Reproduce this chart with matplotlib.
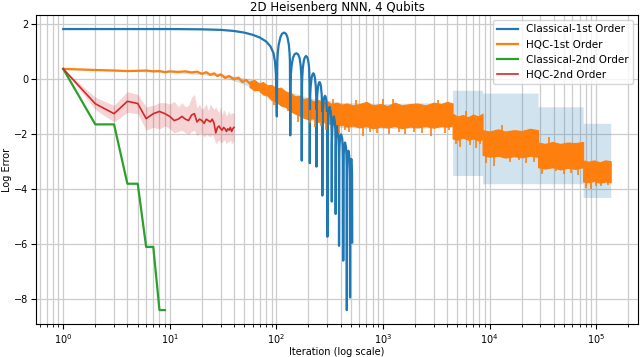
import numpy as np
import matplotlib
matplotlib.use("Agg")
import matplotlib.pyplot as plt

# Classical-1st Order (iteration, log error)
c1_x = [1, 5, 10, 20, 30, 40, 50, 60, 70, 80, 88, 94, 97, 99, 101,
        102, 103, 105, 109, 113, 118, 123, 127, 131, 133, 134, 135,
        136, 137, 139, 143, 148, 154, 160, 165, 169, 171, 172, 173,
        174, 175, 177, 181, 185, 190, 195, 199, 203, 204, 205, 206,
        207, 208, 210, 214, 218, 222, 226, 230, 234, 236, 237, 238,
        239, 240, 242, 246, 250, 254, 258, 262, 266, 268, 269, 270,
        271, 272, 274, 278, 282, 286, 290, 294, 297, 299, 300, 301,
        302, 303, 305, 309, 316, 323, 327, 329, 330, 331,
        332, 333, 335, 339, 346, 353, 357, 358, 359, 360,
        361, 362, 364, 368, 374, 380, 384, 385, 386, 387,
        388, 389, 391, 395, 405, 415, 420, 422, 423, 424,
        425, 426, 428, 432, 441, 450, 454, 456, 457, 458,
        459, 460, 462, 466, 474, 482, 486, 488, 489, 491,
        492, 493, 495, 499, 505, 510, 513, 515]
c1_y = [1.83, 1.83, 1.83, 1.82, 1.80, 1.76, 1.70, 1.62, 1.52, 1.38, 1.20, 0.95, 0.65, 0.20, -1.35,
        0.65, 0.95, 1.25, 1.53, 1.66, 1.70, 1.66, 1.53, 1.25, 0.95, 0.65, -2.04,
        -0.10, 0.20, 0.50, 0.78, 0.91, 0.95, 0.91, 0.78, 0.50, 0.20, -0.10, -2.96,
        -0.20, 0.10, 0.40, 0.68, 0.80, 0.85, 0.80, 0.68, 0.40, 0.10, -0.20, -3.05,
        -0.83, -0.53, -0.23, 0.05, 0.18, 0.22, 0.18, 0.05, -0.23, -0.53, -0.83, -3.18,
        -1.15, -0.85, -0.55, -0.27, -0.14, -0.10, -0.14, -0.27, -0.55, -0.85, -1.15, -4.23,
        -1.65, -1.35, -1.05, -0.77, -0.64, -0.60, -0.64, -0.77, -1.05, -1.35, -1.65, -5.73,
        -2.05, -1.75, -1.45, -1.17, -1.00, -1.17, -1.45, -1.75, -2.05, -4.45,
        -2.40, -2.10, -1.80, -1.52, -1.35, -1.52, -1.80, -2.10, -2.40, -4.90,
        -2.75, -2.45, -2.15, -1.87, -1.70, -1.87, -2.15, -2.45, -2.75, -6.06,
        -3.05, -2.75, -2.45, -2.17, -2.00, -2.17, -2.45, -2.75, -3.05, -6.60,
        -3.35, -3.05, -2.75, -2.47, -2.30, -2.47, -2.75, -3.05, -3.35, -8.40,
        -3.65, -3.35, -3.05, -2.77, -2.60, -2.77, -3.05, -3.35, -3.65, -7.94,
        -3.95, -3.65, -3.35, -3.07, -2.90, -3.10, -3.50, -5.94]

# HQC-1st Order: early line, then the dense noisy band
h1_x = [1, 2, 3, 4, 5, 6, 7, 8, 9, 10, 12, 14, 16, 18, 20, 22, 24, 26, 28, 30,
        33, 36, 40, 44, 48, 52, 56, 60]
h1_y = [0.38, 0.34, 0.32, 0.30, 0.31, 0.32, 0.29, 0.30, 0.26, 0.29, 0.27, 0.29,
        0.25, 0.28, 0.20, 0.26, 0.16, 0.22, 0.12, 0.18, 0.05, 0.12, 0.00, 0.06,
        -0.10, -0.02, -0.15, -0.12]
h1_band_x = [56, 62, 68, 75, 82, 90, 100, 110, 122, 135, 150, 165, 180, 200, 220, 245,
             270, 300, 330, 370, 410, 460, 520, 600, 700, 800, 950, 1100, 1300, 1500,
             1800, 2100, 2500, 3000, 3500, 4000, 4500,
             4500, 5000, 5600, 6300, 7000, 7800, 8600,
             8600, 10000, 12000, 14000, 17000, 20000, 24000, 28500,
             28500, 33000, 39000, 46000, 54000, 64000, 75500,
             75500, 85000, 95000, 108000, 122000, 137000]
h1_band_hi = [-0.08, -0.02, -0.15, -0.10, -0.22, -0.20, -0.33, -0.30, -0.45, -0.50, -0.62,
              -0.60, -0.72, -0.68, -0.80, -0.75, -0.85, -0.80, -0.90, -0.85, -0.92, -0.88,
              -0.95, -0.90, -0.82, -0.95, -0.90, -0.97, -0.85, -0.95, -0.90, -0.88, -0.95,
              -0.85, -0.90, -0.82, -0.88,
              -1.25, -1.35, -1.30, -1.38, -1.28, -1.35, -1.25,
              -1.85, -1.90, -1.82, -1.90, -1.85, -1.88, -1.80, -1.85,
              -2.30, -2.35, -2.28, -2.35, -2.30, -2.32, -2.28,
              -2.95, -3.00, -2.95, -3.02, -2.95, -2.98]
h1_band_lo = [-0.28, -0.40, -0.38, -0.55, -0.58, -0.75, -0.80, -0.95, -1.00, -1.15, -1.25,
              -1.32, -1.40, -1.45, -1.42, -1.55, -1.50, -1.62, -1.60, -1.70, -1.65, -1.72,
              -1.68, -1.75, -1.70, -1.78, -1.72, -1.75, -1.70, -1.78, -1.72, -1.75, -1.70,
              -1.76, -1.70, -1.72, -1.68,
              -2.15, -2.20, -2.12, -2.20, -2.15, -2.22, -2.18,
              -2.75, -2.82, -2.78, -2.85, -2.80, -2.84, -2.78, -2.82,
              -3.20, -3.25, -3.20, -3.28, -3.22, -3.26, -3.20,
              -3.72, -3.75, -3.70, -3.76, -3.72, -3.75]
# single noise spikes sticking out of the band
h1_spike_x = [95, 128, 160, 205, 230, 260, 290, 340, 390, 440, 480, 560, 650, 760, 880,
              1000, 1150, 1250, 1400, 1600, 1950, 2300, 2800, 3300, 3800, 4200,
              4800, 5300, 6000, 6600, 7400, 8200, 9300, 11000, 13000, 15500, 19000, 22000,
              26000, 31000, 36000, 42000, 50000, 58000, 68000, 80000, 90000, 100000,
              112000, 130000]
h1_spike_lo = [-0.95, -1.15, -1.55, -1.60, -1.75, -1.70, -1.85, -1.20, -1.95, -1.85,
               -1.90, -1.20, -2.05, -1.90, -1.95, -1.20, -2.00, -1.20, -1.90, -2.00,
               -1.90, -1.95, -2.05, -1.30, -1.95, -1.85, -2.35, -2.45, -1.60, -2.40,
               -2.50, -2.35, -3.05, -3.15, -2.30, -3.00, -2.95, -3.05, -3.00, -3.45,
               -2.70, -3.35, -3.45, -3.40, -3.50, -3.95, -4.00, -3.90, -3.90, -3.85]
h1_spike_hi = [-0.60, -0.80, -1.00, -1.10, -1.10, -1.20, -1.20, -0.72, -1.30, -1.30,
               -1.30, -0.75, -1.40, -1.30, -1.30, -0.72, -1.30, -0.72, -1.30, -1.30,
               -1.30, -1.30, -1.30, -0.75, -1.30, -1.30, -1.70, -1.70, -1.15, -1.70,
               -1.70, -1.70, -2.30, -2.30, -1.65, -2.30, -2.30, -2.30, -2.30, -2.70,
               -2.10, -2.70, -2.70, -2.70, -2.70, -3.30, -3.30, -3.30, -3.30, -3.30]
# spread of HQC-1st Order runs
h1_std_x = [1, 10, 30, 60, 100, 200, 400, 1000, 4500, 4500, 8600, 8600, 28500, 28500,
            75500, 75500, 137000]
h1_std_hi = [0.40, 0.33, 0.22, -0.02, -0.30, -0.66, -0.84, -0.88, -0.84, -0.40, -0.40,
             -0.50, -0.50, -1.00, -1.00, -1.60, -1.60]
h1_std_lo = [0.36, 0.25, 0.12, -0.30, -0.88, -1.48, -1.75, -1.80, -1.75, -3.50, -3.50,
             -3.80, -3.80, -3.80, -3.80, -4.30, -4.30]

# Classical-2nd Order
c2_x = [1, 2, 3, 4, 5, 6, 7, 8, 9]
c2_y = [0.38, -1.64, -1.64, -3.80, -3.80, -6.10, -6.10, -8.40, -8.40]

# HQC-2nd Order with spread
h2_x = list(range(1, 41))
h2_y = [0.38, -0.89, -1.25, -0.80, -0.88, -1.43, -1.25, -1.17, -1.25, -1.35,
        -1.50, -1.45, -1.35, -1.45, -1.50, -1.30, -1.25, -1.55, -1.45, -1.50,
        -1.60, -1.45, -1.50, -1.55, -1.45, -1.60, -1.95, -1.75, -1.70, -1.80,
        -1.85, -1.75, -1.80, -1.90, -1.80, -1.85, -1.75, -1.90, -1.80, -1.75]
h2_hi = [0.38, -0.65, -0.95, -0.45, -0.55, -1.00, -0.95, -0.85, -0.85, -0.90,
         -0.80, -1.00, -0.85, -1.00, -0.95, -0.65, -0.55, -1.05, -0.90, -1.10,
         -1.00, -0.90, -1.15, -0.90, -1.00, -1.10, -1.00, -1.15, -1.20, -1.00,
         -1.30, -1.10, -1.20, -1.35, -1.25, -1.15, -1.30, -1.20, -1.25, -1.20]
h2_lo = [0.38, -1.10, -1.55, -1.20, -1.25, -1.85, -1.75, -1.80, -1.70, -1.80,
         -1.95, -1.90, -1.85, -1.95, -2.00, -1.90, -1.85, -2.05, -1.95, -2.00,
         -2.10, -2.00, -2.05, -2.10, -2.00, -2.15, -2.35, -2.25, -2.20, -2.30,
         -2.30, -2.20, -2.25, -2.35, -2.25, -2.30, -2.20, -2.35, -2.30, -2.20]

BLUE, ORANGE, GREEN, RED = "#1f77b4", "#ff7f0e", "#2ca02c", "#d62728"

fig = plt.figure(figsize=(6.4, 3.57), dpi=100)
ax = fig.add_axes([0.056, 0.092, 0.941, 0.866])

# shaded spreads first
ax.fill_between(h1_std_x, h1_std_lo, h1_std_hi, color=BLUE, alpha=0.2, linewidth=0)
ax.fill_between(h2_x, h2_lo, h2_hi, color=RED, alpha=0.2, linewidth=0)

ax.plot(c1_x, c1_y, color=BLUE, lw=1.6, label="Classical-1st Order")
# HQC-1st: thin line early on, dense noise band later
ax.plot(h1_x, h1_y, color=ORANGE, lw=1.6, label="HQC-1st Order")
ax.fill_between(h1_band_x, h1_band_lo, h1_band_hi, color=ORANGE, linewidth=0.8,
                edgecolor=ORANGE)
ax.vlines(h1_spike_x, h1_spike_lo, h1_spike_hi, color=ORANGE, lw=1.2)
ax.plot(c2_x, c2_y, color=GREEN, lw=1.6, label="Classical-2nd Order")
ax.plot(h2_x, h2_y, color=RED, lw=1.2, label="HQC-2nd Order")

ax.set_xscale("log")
ax.grid(True, which="both", color="#cccccc", lw=0.9)
ax.set_axisbelow(True)
ax.tick_params(labelsize=7, pad=2)
ax.tick_params(which="minor", length=2)
ax.set_title("2D Heisenberg NNN, 4 Qubits", fontsize=8.5, pad=3)
ax.set_xlabel("Iteration (log scale)", fontsize=7, labelpad=1)
ax.set_ylabel("Log Error", fontsize=7, labelpad=1)
ax.legend(loc="upper right", fontsize=7.5)

fig.savefig("out.png", dpi=100)
